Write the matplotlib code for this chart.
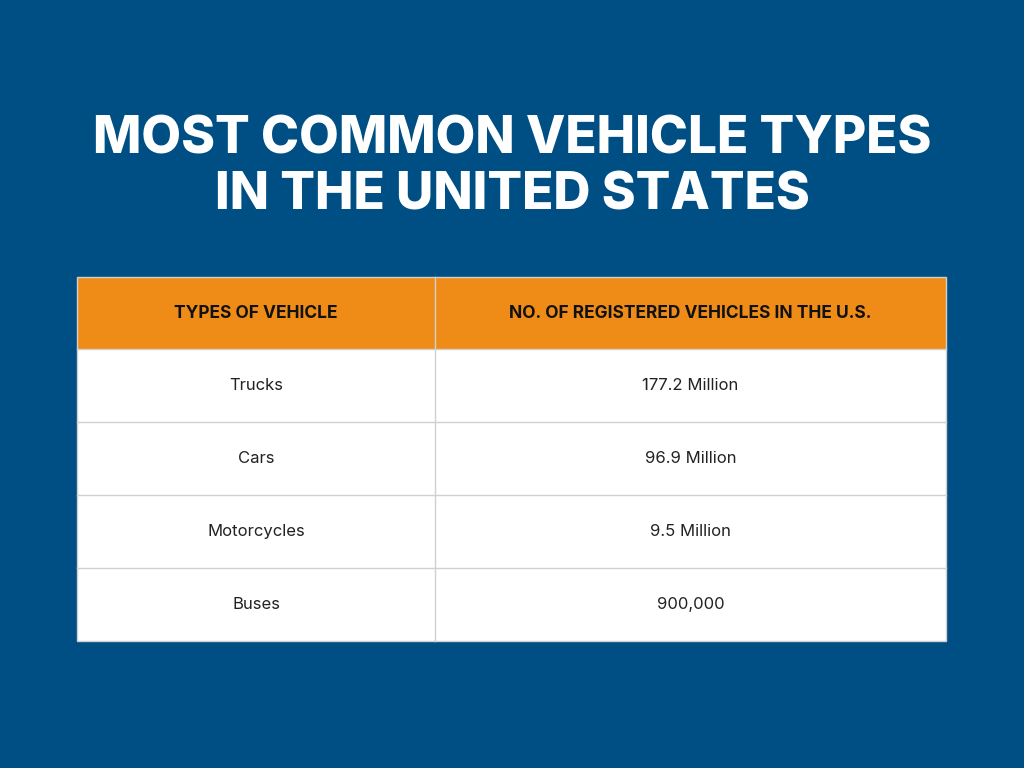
import matplotlib
matplotlib.use("Agg")
import matplotlib.pyplot as plt
from matplotlib.patches import Rectangle

title_lines = ["MOST COMMON VEHICLE TYPES", "IN THE UNITED STATES"]
headers = ["TYPES OF VEHICLE", "NO. OF REGISTERED VEHICLES IN THE U.S."]
vehicle_types = ["Trucks", "Cars", "Motorcycles", "Buses"]
registered = ["177.2 Million", "96.9 Million", "9.5 Million", "900,000"]

BG = "#004F84"
ORANGE = "#EE8C17"
GRID = "#D0D0D0"

fig = plt.figure(figsize=(10.24, 7.68), dpi=100)
fig.patch.set_facecolor(BG)
ax = fig.add_axes([0, 0, 1, 1])
ax.set_xlim(0, 1024)
ax.set_ylim(768, 0)
ax.axis("off")

ax.text(512, 140, title_lines[0], ha="center", va="center", color="white",
        fontsize=37, fontweight="heavy", family="Inter")
ax.text(512, 196, title_lines[1], ha="center", va="center", color="white",
        fontsize=37, fontweight="heavy", family="Inter")

x0, x1, x2 = 77, 435, 946
top, head_h, row_h = 277, 72, 73

ax.add_patch(Rectangle((x0, top), x2 - x0, head_h, facecolor=ORANGE, edgecolor="none"))
ax.text((x0 + x1) / 2, top + head_h / 2, headers[0], ha="center", va="center",
        fontsize=12.5, fontweight="bold", family="Inter", color="#111111")
ax.text((x1 + x2) / 2, top + head_h / 2, headers[1], ha="center", va="center",
        fontsize=12.5, fontweight="bold", family="Inter", color="#111111")

for i, (t, v) in enumerate(zip(vehicle_types, registered)):
    y = top + head_h + i * row_h
    ax.add_patch(Rectangle((x0, y), x2 - x0, row_h, facecolor="white", edgecolor="none"))
    ax.plot([x0, x2], [y, y], color=GRID, lw=1)
    ax.text((x0 + x1) / 2, y + row_h / 2, t, ha="center", va="center",
            fontsize=12, family="Inter", color="#222222")
    ax.text((x1 + x2) / 2, y + row_h / 2, v, ha="center", va="center",
            fontsize=12, family="Inter", color="#222222")

bottom = top + head_h + len(vehicle_types) * row_h
ax.plot([x1, x1], [top, bottom], color=GRID, lw=1)
ax.add_patch(Rectangle((x0, top), x2 - x0, bottom - top, facecolor="none", edgecolor=GRID, lw=1))

fig.savefig("out.png", dpi=100, facecolor=BG)
